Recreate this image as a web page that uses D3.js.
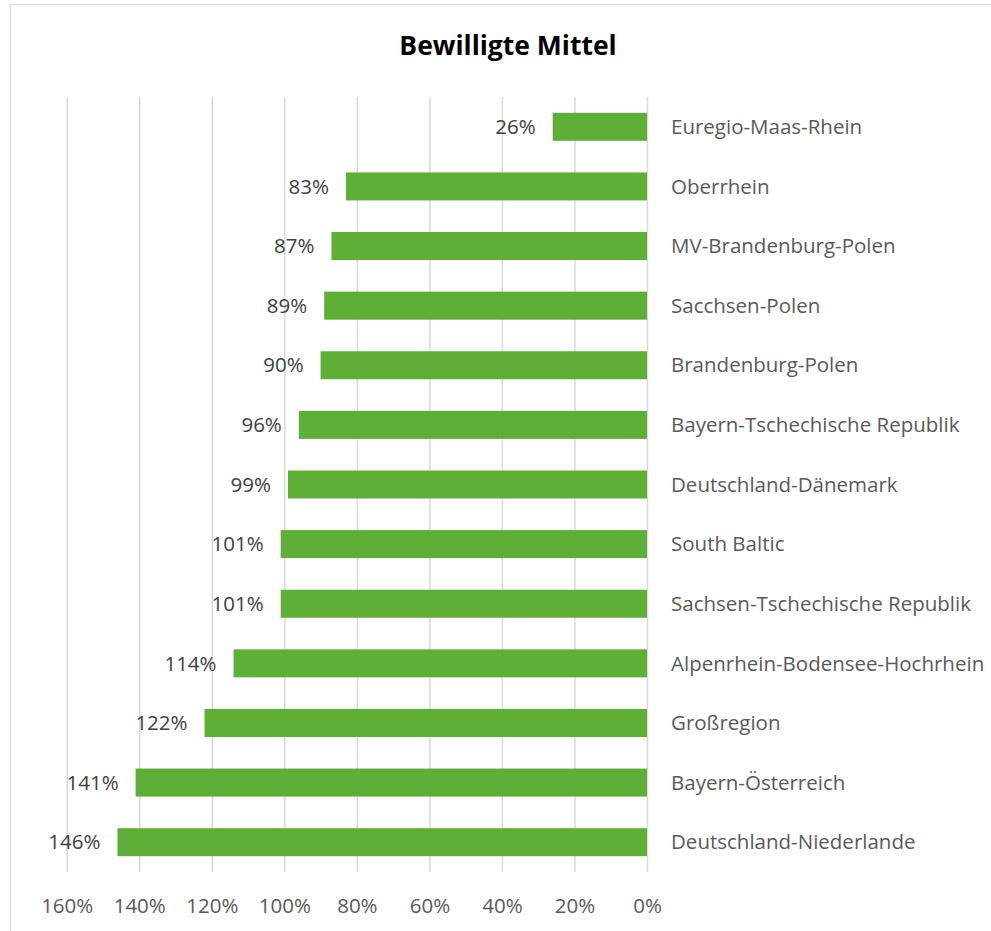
<!DOCTYPE html>
<html>
<head>
<meta charset="utf-8">
<script src="https://cdn.jsdelivr.net/npm/d3@7"></script>
<style>
  body { margin: 0; background: #fff; }
  text { font-family: "Open Sans", sans-serif; }
</style>
</head>
<body>
<div id="main"></div>
<script>
// chart data
var regions = ['Euregio-Maas-Rhein', 'Oberrhein', 'MV-Brandenburg-Polen', 'Sacchsen-Polen',
  'Brandenburg-Polen', 'Bayern-Tschechische Republik', 'Deutschland-Dänemark', 'South Baltic',
  'Sachsen-Tschechische Republik', 'Alpenrhein-Bodensee-Hochrhein', 'Großregion',
  'Bayern-Österreich', 'Deutschland-Niederlande'];
var shares = [26, 83, 87, 89, 90, 96, 99, 101, 101, 114, 122, 141, 146];
var tickValues = [0, 20, 40, 60, 80, 100, 120, 140, 160];
var title = 'Bewilligte Mittel';

var width = 991, height = 931;
var plotTop = 97, plotBottom = 872;
var fontSize = 20.5;

var svg = d3.select('#main').append('svg')
  .attr('width', width).attr('height', height);

// chart frame
svg.append('rect')
  .attr('x', 10.5).attr('y', 4.5)
  .attr('width', 1000).attr('height', 1000)
  .attr('fill', '#fff')
  .attr('stroke', '#d9d9d9')
  .attr('stroke-width', 1);

var x = d3.scaleLinear().domain([0, 160]).range([647, 66.7]);

var y = d3.scaleBand().domain(regions).range([plotTop, plotBottom])
  .paddingInner(0.53).paddingOuter(0.265);

// gridlines
svg.append('g')
  .attr('transform', 'translate(0,' + plotBottom + ')')
  .call(d3.axisBottom(x).tickValues(tickValues).tickSize(-(plotBottom - plotTop)).tickFormat(''))
  .call(function (g) { g.select('.domain').remove(); })
  .call(function (g) {
    g.selectAll('line').attr('stroke', '#d9d9d9').attr('stroke-width', 1.5);
  });

// tick labels
svg.append('g')
  .attr('transform', 'translate(0,' + plotBottom + ')')
  .call(d3.axisBottom(x).tickValues(tickValues).tickSize(0).tickPadding(0)
    .tickFormat(function (d) { return d + '%'; }))
  .call(function (g) { g.select('.domain').remove(); })
  .call(function (g) {
    g.selectAll('text')
      .attr('y', 41)
      .attr('dy', 0)
      .attr('fill', '#595959')
      .attr('font-size', fontSize)
      .attr('font-family', '"Open Sans", sans-serif');
  });

// bars
svg.selectAll('.bar')
  .data(regions)
  .enter()
  .append('rect')
  .attr('class', 'bar')
  .attr('x', function (d, i) { return x(shares[i]); })
  .attr('y', function (d) { return y(d); })
  .attr('width', function (d, i) { return x(0) - x(shares[i]); })
  .attr('height', y.bandwidth())
  .attr('fill', '#5eae37');

// value labels
svg.selectAll('.value')
  .data(regions)
  .enter()
  .append('text')
  .attr('class', 'value')
  .attr('x', function (d, i) { return x(shares[i]) - 17; })
  .attr('y', function (d) { return y(d) + y.bandwidth() / 2; })
  .attr('dy', '0.35em')
  .attr('text-anchor', 'end')
  .attr('font-size', fontSize)
  .attr('fill', '#404040')
  .text(function (d, i) { return shares[i] + '%'; });

// category labels
svg.selectAll('.label')
  .data(regions)
  .enter()
  .append('text')
  .attr('class', 'label')
  .attr('x', 671)
  .attr('y', function (d) { return y(d) + y.bandwidth() / 2; })
  .attr('dy', '0.35em')
  .attr('font-size', fontSize)
  .attr('fill', '#595959')
  .text(function (d) { return d; });

// title
svg.append('text')
  .attr('x', 508)
  .attr('y', 55)
  .attr('text-anchor', 'middle')
  .attr('font-size', 26.5)
  .attr('font-weight', 'bold')
  .attr('fill', '#000')
  .text(title);
</script>
</body>
</html>
